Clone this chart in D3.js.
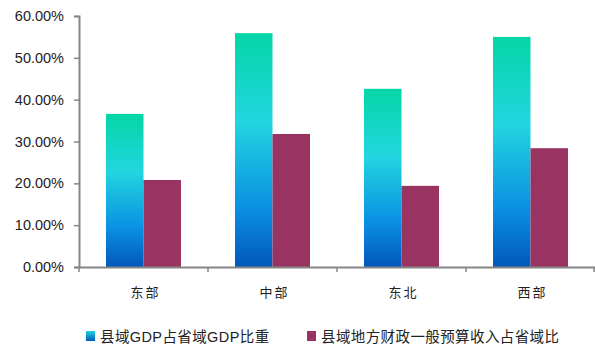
<!DOCTYPE html>
<html><head><meta charset="utf-8">
<script src="https://cdn.jsdelivr.net/npm/d3@7/dist/d3.min.js"></script>
<style>body{margin:0;background:#fff}svg{display:block}</style>
</head><body>
<svg id="c" width="595" height="344"></svg>
<script>
const categories = ["东部", "中部", "东北", "西部"];
const gdpShare = [0.366, 0.559, 0.426, 0.550];
const revenueShare = [0.208, 0.318, 0.194, 0.284];
const yTicks = [0, 0.1, 0.2, 0.3, 0.4, 0.5, 0.6];
const seriesNames = ["县域GDP占省域GDP比重", "县域地方财政一般预算收入占省域比"];

const svg = d3.select("#c");
const x0 = d3.scaleBand().domain(categories).range([79, 595]).paddingInner(0).paddingOuter(0);
const y = d3.scaleLinear().domain([0, 0.6]).range([267, 16]);
const barW = 37.5;
const groupOff = (x0.bandwidth() - 2 * barW) / 2;

const defs = svg.append("defs");
const g = defs.append("linearGradient").attr("id", "grad").attr("x1", 0).attr("y1", 0).attr("x2", 0).attr("y2", 1);
g.append("stop").attr("offset", "0%").attr("stop-color", "#04d6a6");
g.append("stop").attr("offset", "38%").attr("stop-color", "#22d5e0");
g.append("stop").attr("offset", "75%").attr("stop-color", "#0a8fe2");
g.append("stop").attr("offset", "100%").attr("stop-color", "#0258ba");
const lg = defs.append("linearGradient").attr("id", "lgrad").attr("x1", 0).attr("y1", 0).attr("x2", 0).attr("y2", 1);
lg.append("stop").attr("offset", "0%").attr("stop-color", "#22d5e0");
lg.append("stop").attr("offset", "100%").attr("stop-color", "#0258ba");

svg.selectAll("rect.gdp").data(gdpShare).join("rect").attr("class", "gdp")
  .attr("x", (d, i) => x0(categories[i]) + groupOff)
  .attr("width", barW)
  .attr("y", d => y(d))
  .attr("height", d => y(0) - y(d))
  .attr("fill", "url(#grad)");

svg.selectAll("rect.rev").data(revenueShare).join("rect").attr("class", "rev")
  .attr("x", (d, i) => x0(categories[i]) + groupOff + barW)
  .attr("width", barW)
  .attr("y", d => y(d))
  .attr("height", d => y(0) - y(d))
  .attr("fill", "#993462");

// Y axis
const yAxis = svg.append("g").attr("transform", "translate(79,0)")
  .call(d3.axisLeft(y).tickValues(yTicks).tickFormat(d => (d * 100).toFixed(2) + "%").tickSize(5).tickPadding(10));
yAxis.select(".domain").attr("stroke", "#868686").attr("stroke-width", 2);
yAxis.selectAll(".tick line").attr("stroke", "#868686").attr("stroke-width", 1.5);
yAxis.selectAll(".tick text").attr("font-family", "Liberation Sans, Arial, sans-serif").attr("font-size", 14.5).attr("fill", "#222");

// X axis
const xAxis = svg.append("g").attr("transform", "translate(0,267)")
  .call(d3.axisBottom(x0).tickSize(0).tickPadding(21));
xAxis.select(".domain").attr("stroke", "#868686").attr("stroke-width", 2);
xAxis.selectAll(".tick text").attr("font-family", "Noto Sans CJK SC, sans-serif").attr("font-size", 13)
  .attr("letter-spacing", 2).attr("dx", 2).attr("fill", "#222");
const bounds = categories.map(c => x0(c)).concat([x0(categories[categories.length - 1]) + x0.bandwidth() - 1]);
svg.append("g").selectAll("line").data(bounds).join("line")
  .attr("x1", d => d).attr("x2", d => d).attr("y1", 267).attr("y2", 272)
  .attr("stroke", "#868686").attr("stroke-width", 1.5);

// Legend
const legX = [86, 307];
const leg = svg.append("g").selectAll("g").data(seriesNames).join("g")
  .attr("transform", (d, i) => `translate(${legX[i]},330)`);
leg.append("rect").attr("width", 9).attr("height", 10).attr("y", 1)
  .attr("fill", (d, i) => i === 0 ? "url(#lgrad)" : "#993462");
leg.append("text").attr("x", 14).attr("y", 11.5)
  .attr("font-family", "Liberation Sans, Noto Sans CJK SC, sans-serif").attr("font-size", 14.5)
  .attr("letter-spacing", 0.4).attr("fill", "#222")
  .text(d => d);
</script>
</body></html>
